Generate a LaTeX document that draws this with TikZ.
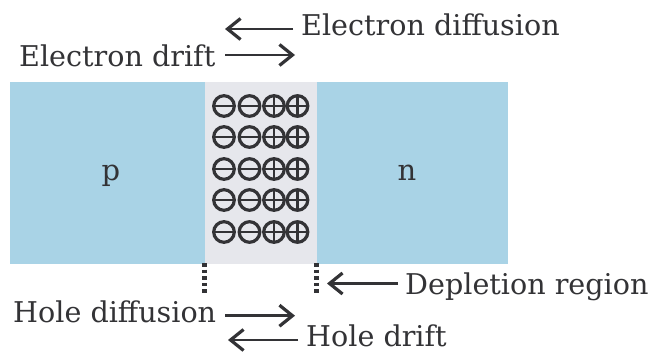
\documentclass[tikz,border=0pt]{standalone}
\usepackage{fontspec}
\setmainfont{DejaVu Serif}
\usetikzlibrary{arrows.meta}
\definecolor{pblue}{HTML}{A9D3E6}
\definecolor{dep}{HTML}{E6E7EC}
\definecolor{ink}{HTML}{333336}
\tikzset{
  x=1pt,y=-1pt,
  lbl/.style={text=ink,inner sep=0pt,font=\fontsize{28.6}{30}\selectfont,anchor=base west},
  region/.style={inner sep=0pt,outer sep=0pt,minimum height=182pt,anchor=north west},
  ion/.style={circle,draw=ink,line width=3.2pt,minimum size=20.6pt,inner sep=0pt},
  neg/.style={ion,path picture={\draw[ink,line width=2.8pt](path picture bounding box.west)--(path picture bounding box.east);}},
  posi/.style={ion,path picture={\draw[ink,line width=2.8pt](path picture bounding box.west)--(path picture bounding box.east)(path picture bounding box.north)--(path picture bounding box.south);}},
  flow/.style={ink,line width=2.6pt,-{Straight Barb[length=13pt,width=21pt,line width=3.2pt]}},
  edge line/.style={ink,line width=4.7pt,dash pattern=on 3.6pt off 3pt}
}
\begin{document}
\begin{tikzpicture}
\useasboundingbox (0,0) rectangle (651,351);
\fill[white] (0,0) rectangle (651,351);
\node[region,fill=pblue,minimum width=195pt] (p) at (10,82) {};
\node[region,fill=dep,minimum width=112pt] (d) at (205,82) {};
\node[region,fill=pblue,minimum width=191pt] (n) at (317,82) {};
\node[text=ink,inner sep=0pt,font=\fontsize{29}{31}\selectfont,anchor=base] (pl) at (111,180) {p};
\node[text=ink,inner sep=0pt,font=\fontsize{29}{31}\selectfont,anchor=base] (nl) at (407,180) {n};
\foreach \r/\y in {1/106,2/137,3/169,4/200,5/232}{
  \node[neg] (a\r) at (224,\y) {};
  \node[neg] (b\r) at (249.5,\y) {};
  \node[posi] (c\r) at (274,\y) {};
  \node[posi] (e\r) at (297.5,\y) {};
}
\node[lbl] (ed) at (301,35) {Electron diffusion};
\node[lbl] (edr) at (19,66.5) {Electron drift};
\node[lbl] (hd) at (13,322.5) {Hole diffusion};
\node[lbl] (hdr) at (306,346) {Hole drift};
\node[lbl] (dr) at (405,294) {Depletion region};
\coordinate (e0) at (293,29);
\coordinate (e1) at (225,29);
\coordinate (e2) at (225,55);
\coordinate (e3) at (295,55);
\coordinate (h0) at (225,315.7);
\coordinate (h1) at (295,315.7);
\coordinate (h3) at (298,340);
\coordinate (h2) at (228,340);
\coordinate (l0) at (398,283.5);
\coordinate (l1) at (327,283.5);
\coordinate (t1) at (204.3,263);
\coordinate (t2) at (204.3,296);
\coordinate (t3) at (316.7,263);
\coordinate (t4) at (316.7,296);
\draw[flow] (e0) -- (e1);
\draw[flow] (e2) -- (e3);
\draw[flow] (h0) -- (h1);
\draw[flow] (h3) -- (h2);
\draw[flow] (l0) -- (l1);
\draw[edge line] (t1) -- (t2);
\draw[edge line] (t3) -- (t4);
\end{tikzpicture}
\end{document}
